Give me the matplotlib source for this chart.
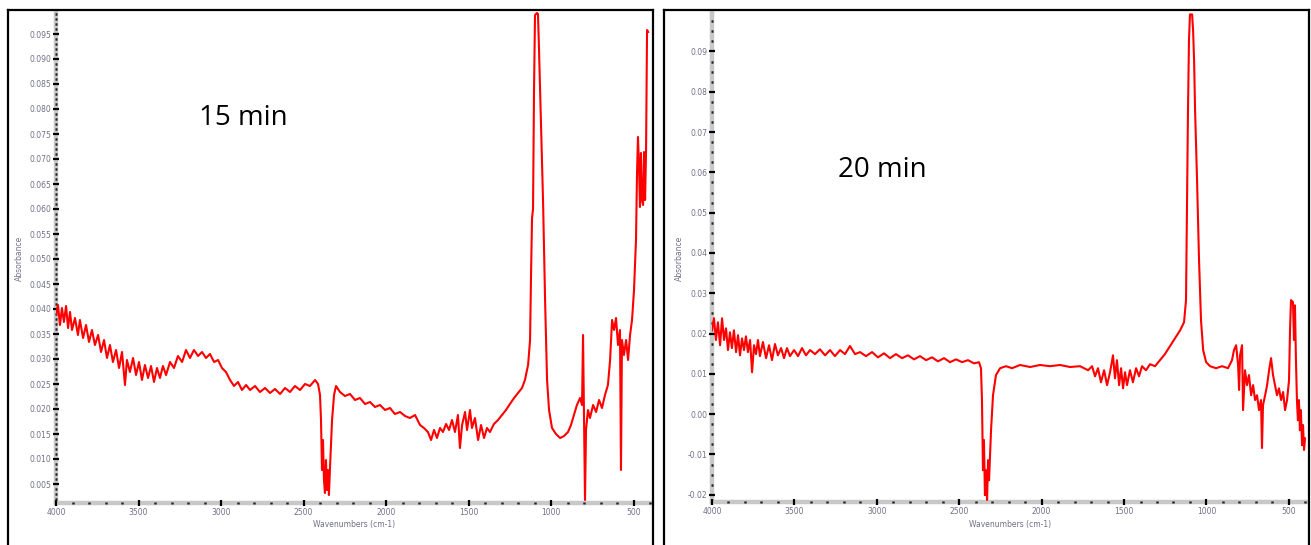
import matplotlib
matplotlib.use("Agg")
import matplotlib.pyplot as plt
from matplotlib.ticker import MultipleLocator, FormatStrFormatter
from matplotlib.lines import Line2D

plt.rcParams['axes.unicode_minus'] = False

# ---------------- data: 15 min ----------------
wn_15 = [4000, 3988, 3976, 3964, 3952, 3939, 3927, 3915, 3903, 3885, 3867, 3855, 3836, 3818, 3800,
         3782, 3764, 3745, 3727, 3709, 3691, 3673, 3655, 3636, 3618, 3600, 3582, 3570, 3552, 3533,
         3515, 3497, 3479, 3461, 3442, 3424, 3406, 3388, 3370, 3352, 3333, 3309, 3285, 3261, 3236,
         3212, 3188, 3164, 3139, 3115, 3091, 3067, 3042, 3018, 2994, 2970, 2945, 2921, 2897, 2873,
         2848, 2824, 2794, 2764, 2733, 2703, 2673, 2642, 2612, 2582, 2552, 2521, 2491, 2461, 2430,
         2412, 2400, 2394, 2388, 2382, 2376, 2370, 2364, 2358, 2352, 2346, 2340, 2327, 2315, 2303,
         2279, 2249, 2218, 2188, 2158, 2127, 2097, 2067, 2036, 2006, 1976, 1946, 1915, 1885, 1855,
         1824, 1794, 1770, 1746, 1727, 1709, 1691, 1673, 1655, 1636, 1618, 1600, 1582, 1564, 1552,
         1539, 1521, 1509, 1491, 1479, 1461, 1442, 1424, 1406, 1388, 1370, 1346, 1321, 1297, 1273,
         1249, 1224, 1200, 1176, 1158, 1139, 1127, 1121, 1115, 1109, 1103, 1097, 1085, 1079, 1073,
         1061, 1048, 1036, 1024, 1012, 994, 970, 945, 921, 897, 879, 861, 843, 824, 812,
         806, 800, 794, 788, 776, 764, 745, 727, 709, 691, 673, 655, 642, 630, 618,
         606, 594, 582, 576, 570, 558, 545, 533, 521, 509, 497, 485, 479, 473, 467,
         461, 455, 449, 442, 436, 430, 424, 418, 412]
abs_15 = [0.0388, 0.0408, 0.0368, 0.0402, 0.0374, 0.0406, 0.0362, 0.0394, 0.0358, 0.0382, 0.0348, 0.0378, 0.0342, 0.0368, 0.0334,
          0.0358, 0.0328, 0.0348, 0.0314, 0.0338, 0.0302, 0.0328, 0.0294, 0.0318, 0.0282, 0.0314, 0.0248, 0.0298, 0.0274, 0.0302,
          0.0268, 0.0294, 0.0258, 0.0288, 0.0262, 0.0286, 0.0254, 0.0282, 0.0262, 0.0286, 0.0268, 0.0294, 0.0282, 0.0306, 0.0294,
          0.0318, 0.0302, 0.0318, 0.0306, 0.0314, 0.0302, 0.0310, 0.0294, 0.0298, 0.0282, 0.0274, 0.0258, 0.0246, 0.0254, 0.0238,
          0.0248, 0.0238, 0.0246, 0.0234, 0.0242, 0.0232, 0.0240, 0.0230, 0.0242, 0.0234, 0.0246, 0.0238, 0.0250, 0.0246, 0.0258,
          0.0250, 0.0228, 0.0178, 0.0078, 0.0138, 0.0058, 0.0032, 0.0098, 0.0038, 0.0078, 0.0028, 0.0078, 0.0178, 0.0228, 0.0246,
          0.0234, 0.0226, 0.0230, 0.0218, 0.0222, 0.0210, 0.0214, 0.0204, 0.0208, 0.0198, 0.0202, 0.0190, 0.0194, 0.0186, 0.0182,
          0.0188, 0.0168, 0.0162, 0.0154, 0.0138, 0.0158, 0.0142, 0.0162, 0.0154, 0.0170, 0.0158, 0.0178, 0.0154, 0.0188, 0.0122,
          0.0168, 0.0194, 0.0158, 0.0198, 0.0162, 0.0182, 0.0138, 0.0168, 0.0142, 0.0162, 0.0154, 0.0170, 0.0178, 0.0188, 0.0198,
          0.0210, 0.0222, 0.0232, 0.0242, 0.0258, 0.0288, 0.0338, 0.0470, 0.0582, 0.0600, 0.0838, 0.0988, 0.0992, 0.0990, 0.0922,
          0.0772, 0.0612, 0.0418, 0.0258, 0.0198, 0.0162, 0.0150, 0.0142, 0.0146, 0.0154, 0.0168, 0.0188, 0.0208, 0.0222, 0.0208,
          0.0348, 0.0178, 0.0018, 0.0158, 0.0198, 0.0182, 0.0208, 0.0194, 0.0218, 0.0202, 0.0228, 0.0248, 0.0298, 0.0378, 0.0358,
          0.0382, 0.0328, 0.0358, 0.0078, 0.0338, 0.0308, 0.0338, 0.0298, 0.0348, 0.0378, 0.0438, 0.0538, 0.0668, 0.0744, 0.0688,
          0.0604, 0.0712, 0.0618, 0.0608, 0.0714, 0.0618, 0.0718, 0.0958, 0.0954]

# ---------------- data: 20 min ----------------
wn_20 = [4000, 3988, 3976, 3964, 3951, 3939, 3927, 3915, 3903, 3891, 3879, 3867, 3854, 3842, 3830,
         3818, 3806, 3794, 3782, 3769, 3757, 3745, 3733, 3721, 3709, 3691, 3672, 3654, 3636, 3618,
         3600, 3581, 3563, 3545, 3527, 3502, 3478, 3454, 3430, 3405, 3375, 3345, 3314, 3284, 3254,
         3223, 3193, 3163, 3132, 3102, 3066, 3029, 2993, 2956, 2920, 2884, 2847, 2811, 2774, 2738,
         2701, 2665, 2629, 2592, 2556, 2519, 2483, 2447, 2410, 2380, 2368, 2362, 2356, 2350, 2344,
         2338, 2331, 2325, 2319, 2307, 2295, 2277, 2252, 2216, 2180, 2131, 2070, 2010, 1949, 1888,
         1828, 1767, 1718, 1694, 1676, 1658, 1640, 1621, 1603, 1585, 1567, 1555, 1543, 1530, 1518,
         1506, 1494, 1482, 1464, 1446, 1427, 1409, 1391, 1367, 1342, 1312, 1282, 1252, 1221, 1191,
         1160, 1136, 1124, 1118, 1112, 1106, 1100, 1087, 1081, 1075, 1069, 1057, 1045, 1033, 1020,
         1002, 978, 942, 905, 869, 845, 833, 820, 808, 802, 796, 784, 778, 766, 754,
         742, 729, 717, 705, 693, 681, 669, 663, 657, 644, 632, 620, 608, 596, 584,
         572, 560, 547, 535, 523, 511, 499, 493, 487, 475, 469, 463, 457, 451, 445,
         439, 433, 427, 420, 414, 408, 402]
abs_20 = [0.0208, 0.0238, 0.0184, 0.0228, 0.0171, 0.0238, 0.0184, 0.0213, 0.0159, 0.0203, 0.0164, 0.0208, 0.0154, 0.0196, 0.0146,
          0.0188, 0.0159, 0.0193, 0.0154, 0.0184, 0.0104, 0.0171, 0.0149, 0.0184, 0.0144, 0.0179, 0.0139, 0.0171, 0.0134, 0.0174,
          0.0146, 0.0164, 0.0139, 0.0164, 0.0144, 0.0159, 0.0144, 0.0164, 0.0146, 0.0159, 0.0149, 0.0161, 0.0146, 0.0159, 0.0144,
          0.0159, 0.0149, 0.0169, 0.0149, 0.0154, 0.0144, 0.0154, 0.0141, 0.0151, 0.0139, 0.0149, 0.0139, 0.0146, 0.0136, 0.0144,
          0.0134, 0.0141, 0.0131, 0.0139, 0.0129, 0.0136, 0.0129, 0.0134, 0.0126, 0.0129, 0.0114, 0.0035, -0.0139, -0.0064, -0.0201,
          -0.0139, -0.0213, -0.0114, -0.0164, -0.0040, 0.0047, 0.0097, 0.0114, 0.0119, 0.0114, 0.0122, 0.0117, 0.0122, 0.0119, 0.0122,
          0.0117, 0.0119, 0.0109, 0.0119, 0.0094, 0.0114, 0.0079, 0.0109, 0.0072, 0.0104, 0.0146, 0.0089, 0.0134, 0.0072, 0.0114,
          0.0064, 0.0104, 0.0072, 0.0109, 0.0079, 0.0114, 0.0094, 0.0119, 0.0109, 0.0124, 0.0119, 0.0134, 0.0149, 0.0169, 0.0188,
          0.0208, 0.0228, 0.0283, 0.0531, 0.0754, 0.0928, 0.0992, 0.0992, 0.0952, 0.0878, 0.0754, 0.0580, 0.0382, 0.0233, 0.0159,
          0.0129, 0.0119, 0.0114, 0.0119, 0.0114, 0.0134, 0.0159, 0.0171, 0.0122, 0.0060, 0.0146, 0.0171, 0.0010, 0.0109, 0.0072,
          0.0097, 0.0047, 0.0072, 0.0035, 0.0047, 0.0010, 0.0035, -0.0084, 0.0022, 0.0047, 0.0072, 0.0109, 0.0139, 0.0097, 0.0072,
          0.0047, 0.0064, 0.0035, 0.0055, 0.0010, 0.0035, 0.0084, 0.0208, 0.0283, 0.0278, 0.0184, 0.0270, 0.0134, 0.0035, -0.0015,
          0.0035, -0.0040, 0.0010, -0.0077, -0.0027, -0.0089, -0.0060]

labels = ["15 min", "20 min"]
x_label = "Wavenumbers (cm-1)"
y_label = "Absorbance"

W, H = 1311, 545
fig = plt.figure(figsize=(W / 100, H / 100), dpi=100)
fig.patch.set_facecolor("white")


def fx(px):
    return px / W


def fy(py):
    return 1 - py / H


def border(x0, x1, y0):
    kw = dict(color="black", lw=1.6, transform=fig.transFigure)
    fig.add_artist(Line2D([fx(x0), fx(x0)], [fy(y0), 0], **kw))
    fig.add_artist(Line2D([fx(x1), fx(x1)], [fy(y0), 0], **kw))
    fig.add_artist(Line2D([fx(x0), fx(x1)], [fy(y0), fy(y0)], **kw))


border(8, 653, 10)
border(664, 1309, 10)

tick_col = "#707088"
spine_col = "#c8c8c8"


def style(ax, ymaj, ymin, fmt):
    for s in ["top", "right"]:
        ax.spines[s].set_visible(False)
    for s in ["left", "bottom"]:
        ax.spines[s].set_color(spine_col)
        ax.spines[s].set_linewidth(3.2)
        ax.spines[s].set_zorder(0.5)
    ax.xaxis.set_major_locator(MultipleLocator(500))
    ax.xaxis.set_minor_locator(MultipleLocator(100))
    ax.yaxis.set_major_locator(MultipleLocator(ymaj))
    ax.yaxis.set_minor_locator(MultipleLocator(ymin))
    ax.yaxis.set_major_formatter(FormatStrFormatter(fmt))
    ax.xaxis.set_major_formatter(FormatStrFormatter("%d"))
    ax.tick_params(which="major", direction="inout", length=4, width=1.6, color="black",
                   labelsize=5.5, labelcolor=tick_col, pad=1.5)
    ax.tick_params(which="minor", direction="inout", length=1.8, width=1.8, color="#222222")
    ax.set_facecolor("none")


# left panel
ax1 = fig.add_axes([fx(56), fy(503), fx(652) - fx(56), fy(12) - fy(503)])
ax1.plot(wn_15, abs_15, color="#ff0000", lw=1.5, zorder=3)
ax1.set_xlim(4000, 388)
ax1.set_ylim(0.0012, 0.0994)
style(ax1, 0.005, 0.001, "%.3f")

# right panel
ax2 = fig.add_axes([fx(712), fy(502), fx(1306) - fx(712), fy(12) - fy(502)])
ax2.plot(wn_20, abs_20, color="#ff0000", lw=1.5, zorder=3)
ax2.set_xlim(4000, 396)
ax2.set_ylim(-0.0218, 0.0998)
style(ax2, 0.01, 0.0025, "%.2f")

# axis labels
fig.text(fx(354), fy(525), x_label, ha="center", va="center", fontsize=5.5, color=tick_col)
fig.text(fx(1010), fy(525), x_label, ha="center", va="center", fontsize=5.5, color=tick_col)
fig.text(fx(19), fy(258), y_label, ha="center", va="center", rotation=90, fontsize=5.5, color=tick_col)
fig.text(fx(679), fy(258), y_label, ha="center", va="center", rotation=90, fontsize=5.5, color=tick_col)

# annotations
fig.text(fx(243), fy(118), labels[0], ha="center", va="center", fontsize=20,
         family=["Open Sans", "DejaVu Sans"], color="black")
fig.text(fx(882), fy(170), labels[1], ha="center", va="center", fontsize=20,
         family=["Open Sans", "DejaVu Sans"], color="black")

fig.savefig("out.png", dpi=100)
